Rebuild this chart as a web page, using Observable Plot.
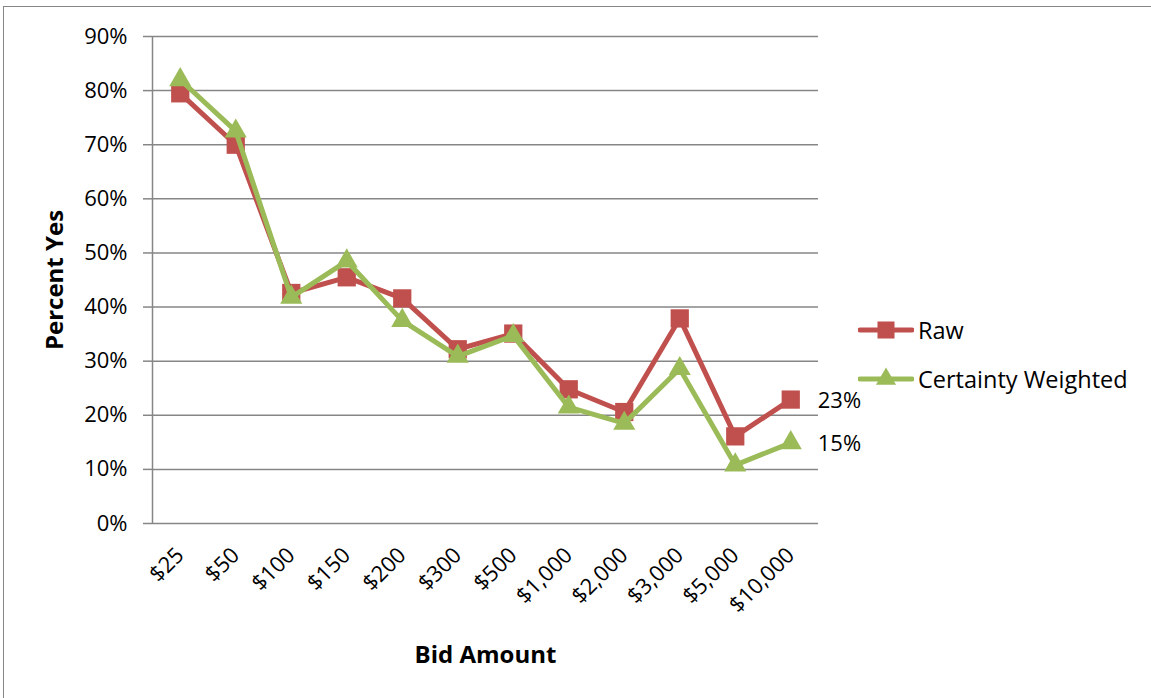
<!DOCTYPE html>
<html>
<head>
<meta charset="utf-8">
<script src="https://cdn.jsdelivr.net/npm/d3@7"></script>
<script src="https://cdn.jsdelivr.net/npm/@observablehq/plot@0.6"></script>
<style>
  html, body { margin: 0; padding: 0; background: #fff; overflow: hidden; }
  #wrap { position: relative; width: 1151px; height: 698px; font-family: "Open Sans", sans-serif; }
  #border { position: absolute; left: 3px; top: 6px; width: 1200px; height: 800px; border-left: 1.5px solid #868686; border-top: 1.5px solid #868686; pointer-events: none; }
  #legend { position: absolute; left: 858px; top: 312px; font-size: 23.5px; color: #000; }
  .item { display: flex; align-items: center; height: 36px; margin-bottom: 13px; }
  .item svg { margin-right: 4px; }
</style>
</head>
<body>
<div id="wrap">
  <div id="chart"></div>
  <div id="border"></div>
  <div id="legend"></div>
</div>
<script>
const bids = ["$25", "$50", "$100", "$150", "$200", "$300", "$500", "$1,000", "$2,000", "$3,000", "$5,000", "$10,000"];
const raw = [0.795, 0.700, 0.426, 0.455, 0.416, 0.322, 0.351, 0.248, 0.206, 0.379, 0.161, 0.229];
const weighted = [0.820, 0.725, 0.418, 0.485, 0.375, 0.309, 0.347, 0.215, 0.185, 0.286, 0.108, 0.149];
const yTicks = [0, 0.1, 0.2, 0.3, 0.4, 0.5, 0.6, 0.7, 0.8, 0.9];
const seriesNames = ["Raw", "Certainty Weighted"];
const seriesColors = ["#C0504D", "#9BBB59"];
const seriesSymbols = ["square", "triangle"];

const rawRows = bids.map((b, i) => ({i, bid: b, v: raw[i]}));
const wRows = bids.map((b, i) => ({i, bid: b, v: weighted[i]}));
const pct = v => Math.round(v * 100) + "%";
const grid = "#868686";

const chart = Plot.plot({
  width: 1151,
  height: 698,
  marginLeft: 152,
  marginRight: 333,
  marginTop: 36,
  marginBottom: 175,
  style: {fontFamily: "'Open Sans', sans-serif", fontSize: "22px", color: "#000", background: "transparent"},
  x: {type: "linear", domain: [-0.5, bids.length - 0.5]},
  y: {domain: [0, 0.9]},
  marks: [
    Plot.gridY(yTicks, {stroke: grid, strokeOpacity: 1, strokeWidth: 1.5}),
    Plot.ruleX([-0.5], {y1: 0, y2: 0.9, stroke: grid, strokeWidth: 1.5}),
    Plot.axisY({ticks: yTicks, tickFormat: pct, tickSize: 9, tickPadding: 16, stroke: grid, strokeWidth: 1.5, fill: "#000", label: null, fontSize: 22}),
    Plot.axisX({ticks: d3.range(bids.length), tickFormat: i => bids[i], tickSize: 0, tickPadding: 28, tickRotate: -45, label: null, fill: "#000", fontSize: 22}),
    Plot.line(rawRows, {x: "i", y: "v", stroke: seriesColors[0], strokeWidth: 5, strokeLinejoin: "round"}),
    Plot.dot(rawRows, {x: "i", y: "v", symbol: seriesSymbols[0], r: 10.3, fill: seriesColors[0], stroke: "none"}),
    Plot.line(wRows, {x: "i", y: "v", stroke: seriesColors[1], strokeWidth: 5, strokeLinejoin: "round"}),
    Plot.dot(wRows, {x: "i", y: "v", symbol: seriesSymbols[1], r: 8.2, fill: seriesColors[1], stroke: "none"}),
    Plot.text([rawRows[rawRows.length - 1], wRows[wRows.length - 1]], {x: "i", y: "v", text: d => pct(d.v), dx: 27, dy: 1, textAnchor: "start", fill: "#000", fontSize: 22}),
    Plot.text(["Percent Yes"], {frameAnchor: "left", dx: -97, rotate: -90, textAnchor: "middle", lineAnchor: "middle", fontWeight: "bold", fontSize: 24, fill: "#000"}),
    Plot.text(["Bid Amount"], {frameAnchor: "bottom", dy: 132, textAnchor: "middle", lineAnchor: "middle", fontWeight: "bold", fontSize: 24, fill: "#000"})
  ]
});
document.getElementById("chart").appendChild(chart);

const legend = document.getElementById("legend");
seriesNames.forEach((name, k) => {
  const item = document.createElement("div");
  item.className = "item";
  const svg = d3.create("svg").attr("width", 56).attr("height", 24);
  svg.append("line").attr("x1", 2).attr("x2", 54).attr("y1", 12).attr("y2", 12)
    .attr("stroke", seriesColors[k]).attr("stroke-width", 5).attr("stroke-linecap", "round");
  svg.append("path").attr("transform", "translate(28,12)")
    .attr("d", d3.symbol(k === 0 ? d3.symbolSquare : d3.symbolTriangle, k === 0 ? 290 : 175)())
    .attr("fill", seriesColors[k]);
  item.appendChild(svg.node());
  const span = document.createElement("span");
  span.textContent = name;
  item.appendChild(span);
  legend.appendChild(item);
});
</script>
</body>
</html>
